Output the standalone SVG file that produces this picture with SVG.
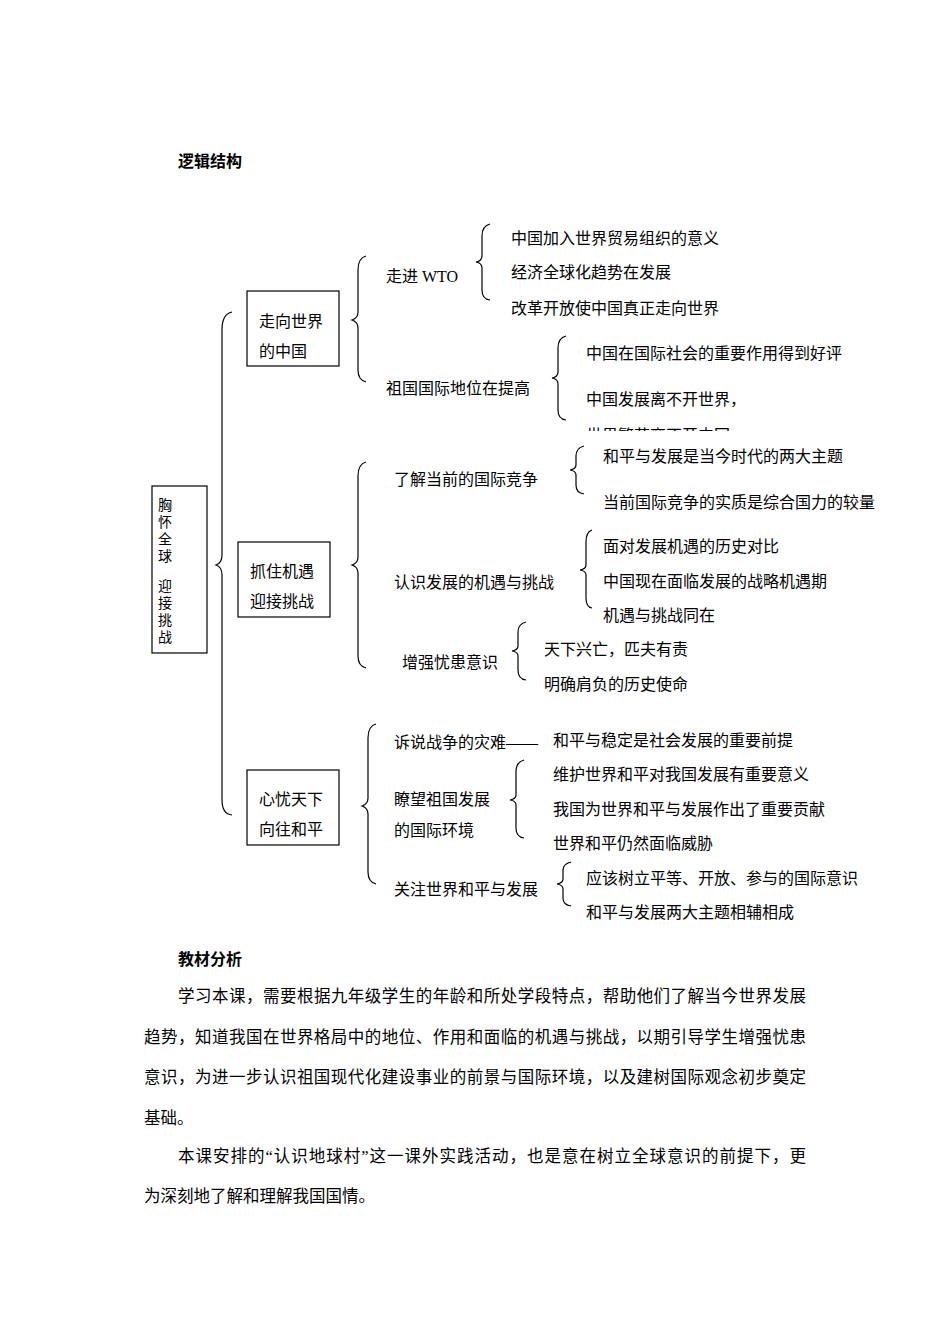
<svg xmlns="http://www.w3.org/2000/svg" width="950" height="1344" viewBox="0 0 950 1344">
<style>
text{font-family:"Liberation Serif","Noto Sans CJK SC",serif;font-size:16px;fill:#000}
.b{font-weight:bold}
.p{font-size:16.5px}
.v{font-size:14px}
.box{fill:none;stroke:#000;stroke-width:1.2}
path{fill:none;stroke:#000;stroke-width:1.2}
</style>
<defs><clipPath id="c"><rect x="580" y="420" width="200" height="11"/></clipPath></defs>
<rect width="950" height="1344" fill="#fff"/>
<text class="b" x="178" y="167">逻辑结构</text>
<g id="connectors">
<path d="M232,312 Q222,314 222,330 L222,555 Q222,563 216,565 Q222,567 222,575 L222,800 Q222,814 232,815"/>
<path d="M366,256 Q358,258 358,270 L358,312 Q358,318 352,320 Q358,322 358,328 L358,370 Q358,380 366,382"/>
<path d="M366,462 Q358,464 358,476 L358,557 Q358,563 352,565 Q358,567 358,573 L358,656 Q358,666 366,668"/>
<path d="M376,724 Q368,726 368,738 L368,798 Q368,804 362,806 Q368,808 368,814 L368,872 Q368,882 376,884"/>
<path d="M490,224 Q482,226 482,236 L482,256 Q482,261 476,262 Q482,263 482,268 L482,290 Q482,299 490,300"/>
<path d="M566,336 Q558,338 558,348 L558,372 Q558,377 552,378 Q558,379 558,384 L558,410 Q558,419 566,420"/>
<path d="M584,446 Q576,448 576,456 L576,465 Q576,469 570,470 Q576,471 576,475 L576,485 Q576,493 584,494"/>
<path d="M592,530 Q586,532 586,542 L586,565 Q586,569 580,570 Q586,571 586,575 L586,598 Q586,607 592,608"/>
<path d="M526,622 Q518,624 518,632 L518,646 Q518,650 512,651 Q518,652 518,656 L518,670 Q518,679 526,680"/>
<path d="M524,760 Q516,762 516,772 L516,795 Q516,799 510,800 Q516,801 516,805 L516,828 Q516,837 524,838"/>
<path d="M571,862 Q563,864 563,870 L563,879 Q563,883 557,884 Q563,885 563,889 L563,898 Q563,905 571,906"/>
</g>
<g id="root"><rect class="box" x="152" y="486" width="55" height="167"/>
<text class="v" x="158" y="510">胸</text><text class="v" x="158" y="527">怀</text><text class="v" x="158" y="544">全</text><text class="v" x="158" y="561">球</text>
<text class="v" x="158" y="591">迎</text><text class="v" x="158" y="608">接</text><text class="v" x="158" y="625">挑</text><text class="v" x="158" y="642">战</text></g>
<g id="n1"><rect class="box" x="247" y="291" width="92" height="75"/><text x="259" y="327">走向世界</text><text x="259" y="357">的中国</text></g>
<g id="n2"><rect class="box" x="238" y="542" width="92" height="75"/><text x="250" y="577">抓住机遇</text><text x="250" y="607">迎接挑战</text></g>
<g id="n3"><rect class="box" x="247" y="770" width="92" height="75"/><text x="259" y="805">心忧天下</text><text x="259" y="835">向往和平</text></g>
<g id="l3">
<text x="386" y="282">走进 WTO</text>
<text x="386" y="394">祖国国际地位在提高</text>
<text x="394" y="485">了解当前的国际竞争</text>
<text x="394" y="588">认识发展的机遇与挑战</text>
<text x="402" y="668">增强忧患意识</text>
<text x="394" y="748">诉说战争的灾难——</text>
<text x="394" y="805">瞭望祖国发展</text>
<text x="394" y="836">的国际环境</text>
<text x="394" y="895">关注世界和平与发展</text>
</g>
<g id="l4">
<text x="511" y="244">中国加入世界贸易组织的意义</text>
<text x="511" y="278">经济全球化趋势在发展</text>
<text x="511" y="314">改革开放使中国真正走向世界</text>
<text x="586" y="359">中国在国际社会的重要作用得到好评</text>
<text x="586" y="405">中国发展离不开世界，</text>
<text x="586" y="441" clip-path="url(#c)">世界繁荣离不开中国</text>
<text x="603" y="462">和平与发展是当今时代的两大主题</text>
<text x="603" y="508">当前国际竞争的实质是综合国力的较量</text>
<text x="603" y="552">面对发展机遇的历史对比</text>
<text x="603" y="587">中国现在面临发展的战略机遇期</text>
<text x="603" y="621">机遇与挑战同在</text>
<text x="544" y="655">天下兴亡，匹夫有责</text>
<text x="544" y="690">明确肩负的历史使命</text>
<text x="553" y="746">和平与稳定是社会发展的重要前提</text>
<text x="553" y="780">维护世界和平对我国发展有重要意义</text>
<text x="553" y="815">我国为世界和平与发展作出了重要贡献</text>
<text x="553" y="849">世界和平仍然面临威胁</text>
<text x="586" y="884">应该树立平等、开放、参与的国际意识</text>
<text x="586" y="918">和平与发展两大主题相辅相成</text>
</g>
<text class="b" x="178" y="965">教材分析</text>
<text class="p" x="178" y="1002" textLength="628">学习本课，需要根据九年级学生的年龄和所处学段特点，帮助他们了解当今世界发展</text>
<text class="p" x="144" y="1043" textLength="662">趋势，知道我国在世界格局中的地位、作用和面临的机遇与挑战，以期引导学生增强忧患</text>
<text class="p" x="144" y="1083" textLength="662">意识，为进一步认识祖国现代化建设事业的前景与国际环境，以及建树国际观念初步奠定</text>
<text class="p" x="144" y="1124">基础。</text>
<text class="p" x="178" y="1162" textLength="628">本课安排的“认识地球村”这一课外实践活动，也是意在树立全球意识的前提下，更</text>
<text class="p" x="144" y="1202">为深刻地了解和理解我国国情。</text>
</svg>
